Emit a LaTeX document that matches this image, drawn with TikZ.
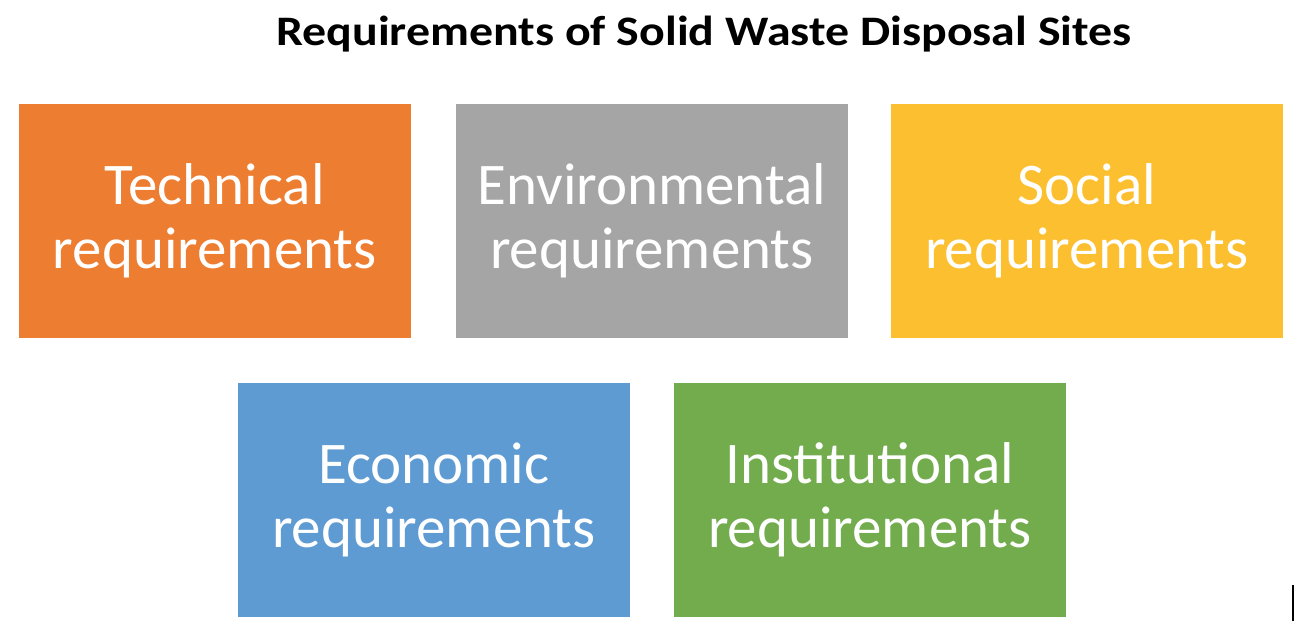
\documentclass[tikz,border=0pt]{standalone}
\usepackage{fontspec}
\setmainfont{Carlito}
\newfontfamily\titlefont{Carlito}[FakeStretch=1.14]
\definecolor{techorange}{HTML}{ED7D31}
\definecolor{envgray}{HTML}{A5A5A5}
\definecolor{socgold}{HTML}{FBBF2F}
\definecolor{ecoblue}{HTML}{5F9BD3}
\definecolor{instgreen}{HTML}{72AC4D}

\begin{document}
\begin{tikzpicture}[x=1pt, y=-1pt,
  reqbox/.style={draw=white, line width=0.6pt, anchor=north west,
    minimum width=393pt, minimum height=235pt, inner sep=0pt,
    text=white, align=center, font=\fontsize{59}{64}\selectfont}]
  \useasboundingbox (0,0) rectangle (1298,638);

  \node[anchor=base, font=\titlefont\bfseries\fontsize{42}{44}\selectfont] (title) at (704,45)
    {Requirements of Solid Waste Disposal Sites};

  % top row
  \node[reqbox, fill=techorange] (tech) at (18,103) {Technical\\requirements};
  \node[reqbox, fill=envgray] (env) at (455,103) {Environmental\\requirements};
  \node[reqbox, fill=socgold] (soc) at (890,103) {Social\\requirements};
  % bottom row
  \node[reqbox, fill=ecoblue] (eco) at (237,382) {Economic\\requirements};
  \node[reqbox, fill=instgreen] (inst) at (673,382) {Institutional\\requirements};

  \coordinate (mark1) at (1293,585);
  \coordinate (mark2) at (1293,621);
  \draw[line width=2pt] (mark1) -- (mark2);
\end{tikzpicture}
\end{document}
